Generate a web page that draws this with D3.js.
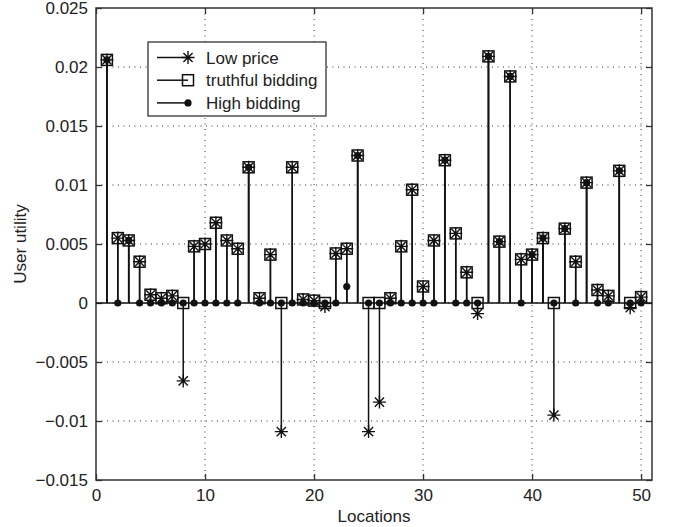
<!DOCTYPE html>
<html>
<head>
<meta charset="utf-8">
<script src="https://cdn.jsdelivr.net/npm/d3@7"></script>
<style>
  body { margin: 0; background: #fff; }
  text { font-family: "Liberation Sans", Arial, sans-serif; fill: #222; }
</style>
</head>
<body>
<div id="chart"></div>
<script>
// locations 1..50
var locations = d3.range(1, 51);

var lowPrice = [
  0.0206, 0.0055, 0.0053, 0.0035, 0.0007, 0.0004, 0.0006, -0.0066, 0.0048, 0.0050,
  0.0068, 0.0053, 0.0046, 0.0115, 0.0004, 0.0041, -0.0109, 0.0115, 0.0003, 0.0002,
  -0.0003, 0.0042, 0.0046, 0.0125, -0.0109, -0.0084, 0.0004, 0.0048, 0.0096, 0.0014,
  0.0053, 0.0121, 0.0059, 0.0026, -0.0009, 0.0209, 0.0052, 0.0192, 0.0037, 0.0041,
  0.0055, -0.0095, 0.0063, 0.0035, 0.0102, 0.0011, 0.0006, 0.0112, -0.0004, 0.0005
];

var truthful = [
  0.0206, 0.0055, 0.0053, 0.0035, 0.0007, 0.0004, 0.0006, 0, 0.0048, 0.0050,
  0.0068, 0.0053, 0.0046, 0.0115, 0.0004, 0.0041, 0, 0.0115, 0.0003, 0.0002,
  0, 0.0042, 0.0046, 0.0125, 0, 0, 0.0004, 0.0048, 0.0096, 0.0014,
  0.0053, 0.0121, 0.0059, 0.0026, 0, 0.0209, 0.0052, 0.0192, 0.0037, 0.0041,
  0.0055, 0, 0.0063, 0.0035, 0.0102, 0.0011, 0.0006, 0.0112, 0, 0.0005
];

var highBid = [
  0.0206, 0, 0.0053, 0, 0, 0, 0, 0, 0, 0,
  0, 0, 0, 0.0115, 0, 0, 0, 0, 0, 0,
  0, 0, 0.0014, 0.0125, 0, 0, 0, 0, 0, 0,
  0, 0.0121, 0, 0, 0, 0.0209, 0.0052, 0.0192, 0, 0.0041,
  0.0055, 0, 0.0063, 0, 0.0102, 0, 0, 0.0112, 0, 0
];

var xTicks = [0, 10, 20, 30, 40, 50];
var yTicks = [-0.015, -0.01, -0.005, 0, 0.005, 0.01, 0.015, 0.02, 0.025];
var yTickLabels = ["\u22120.015", "\u22120.01", "\u22120.005", "0", "0.005", "0.01", "0.015", "0.02", "0.025"];
var seriesNames = ["Low price", "truthful bidding", "High bidding"];

var margin = { top: 8, right: 22, bottom: 47, left: 96 };
var width = 674 - margin.left - margin.right;
var height = 527 - margin.top - margin.bottom;

var svg = d3.select("#chart").append("svg")
    .attr("width", 674)
    .attr("height", 527)
    .append("g")
    .attr("transform", "translate(" + margin.left + "," + margin.top + ")");

var x = d3.scaleLinear().domain([0, 51]).range([0, width]);
var y = d3.scaleLinear().domain([-0.015, 0.025]).range([height, 0]);

// dotted grid
svg.append("g")
    .selectAll("line")
    .data(xTicks.slice(1))
    .enter()
    .append("line")
    .attr("x1", d => x(d)).attr("x2", d => x(d))
    .attr("y1", 0).attr("y2", height)
    .attr("stroke", "#333").attr("stroke-width", 1)
    .attr("stroke-dasharray", "1,4.5");

svg.append("g")
    .selectAll("line")
    .data(yTicks.slice(1, -1))
    .enter()
    .append("line")
    .attr("x1", 0).attr("x2", width)
    .attr("y1", d => y(d)).attr("y2", d => y(d))
    .attr("stroke", "#333").attr("stroke-width", 1)
    .attr("stroke-dasharray", "1,4.5");

// axes (ticks inside, MATLAB box)
function styleAxis(g) {
    g.select(".domain").remove();
    g.selectAll(".tick line").attr("stroke", "#333").attr("stroke-width", 1.3);
    g.selectAll(".tick text").style("font-size", "17px").attr("fill", "#222");
}

svg.append("g")
    .attr("transform", `translate(0,${height})`)
    .call(d3.axisBottom(x).tickValues(xTicks).tickSizeInner(-6).tickSizeOuter(0).tickPadding(9))
    .call(styleAxis);

svg.append("g")
    .call(d3.axisTop(x).tickValues(xTicks).tickSizeInner(-6).tickSizeOuter(0).tickFormat(""))
    .call(styleAxis);

svg.append("g")
    .call(d3.axisLeft(y).tickValues(yTicks).tickSizeInner(-6).tickSizeOuter(0).tickPadding(8)
        .tickFormat((d, i) => yTickLabels[i]))
    .call(styleAxis);

svg.append("g")
    .attr("transform", `translate(${width},0)`)
    .call(d3.axisRight(y).tickValues(yTicks).tickSizeInner(-6).tickSizeOuter(0).tickFormat(""))
    .call(styleAxis);

svg.append("rect")
    .attr("x", 0).attr("y", 0)
    .attr("width", width).attr("height", height)
    .attr("fill", "none")
    .attr("stroke", "#333")
    .attr("stroke-width", 1.5);

// axis titles
svg.append("text")
    .attr("x", width / 2)
    .attr("y", height + 42)
    .attr("text-anchor", "middle")
    .style("font-size", "17px")
    .text("Locations");

svg.append("text")
    .attr("transform", "rotate(-90)")
    .attr("x", -height / 2)
    .attr("y", -70)
    .attr("text-anchor", "middle")
    .style("font-size", "17px")
    .text("User utility");

// markers
var as = 6.5, ak = 4.6;
var asteriskPath = `M${-as},0L${as},0M0,${-as}L0,${as}M${-ak},${-ak}L${ak},${ak}M${-ak},${ak}L${ak},${-ak}`;

function drawMarker(g, kind) {
    if (kind === 0) {
        g.append("path").attr("d", asteriskPath)
            .attr("fill", "none").attr("stroke", "#111").attr("stroke-width", 1.4);
    } else if (kind === 1) {
        g.append("rect").attr("x", -5.5).attr("y", -5.5).attr("width", 11).attr("height", 11)
            .attr("fill", "none").attr("stroke", "#111").attr("stroke-width", 1.5);
    } else {
        g.append("circle").attr("r", 3.6).attr("fill", "#111");
    }
}

// stems, in plotting order
var allSeries = [lowPrice, truthful, highBid];

allSeries.forEach(function (vals, k) {
    var grp = svg.append("g");
    grp.selectAll("line")
        .data(vals)
        .enter()
        .append("line")
        .attr("x1", (d, i) => x(locations[i])).attr("x2", (d, i) => x(locations[i]))
        .attr("y1", y(0)).attr("y2", d => y(d))
        .attr("stroke", "#111").attr("stroke-width", 1.5);
    if (k === 0) {
        // stem baseline
        svg.append("line")
            .attr("x1", 0).attr("x2", width)
            .attr("y1", y(0)).attr("y2", y(0))
            .attr("stroke", "#111").attr("stroke-width", 1.5);
    }
});

allSeries.forEach(function (vals, k) {
    svg.append("g").selectAll("g")
        .data(vals)
        .enter()
        .append("g")
        .attr("transform", (d, i) => `translate(${x(locations[i])},${y(d)})`)
        .each(function () { drawMarker(d3.select(this), k); });
});

// legend
var legend = svg.append("g").attr("transform", "translate(52,34)");
legend.append("rect")
    .attr("width", 178).attr("height", 74)
    .attr("fill", "#fff").attr("stroke", "#333").attr("stroke-width", 1.3);

seriesNames.forEach(function (name, k) {
    var row = legend.append("g").attr("transform", `translate(0,${15.5 + k * 22.7})`);
    row.append("line")
        .attr("x1", 9).attr("x2", 40).attr("y1", 0).attr("y2", 0)
        .attr("stroke", "#111").attr("stroke-width", 1.5);
    drawMarker(row.append("g").attr("transform", "translate(40,0)"), k);
    row.append("text")
        .attr("x", 58).attr("y", 6)
        .style("font-size", "17px")
        .text(name);
});
</script>
</body>
</html>
